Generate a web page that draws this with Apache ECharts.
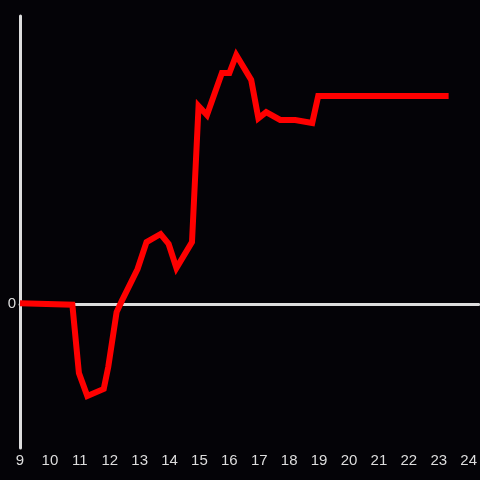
<!DOCTYPE html>
<html>
<head>
<meta charset="utf-8">
<script src="https://cdn.jsdelivr.net/npm/echarts@6/dist/echarts.min.js"></script>
<style>
  html, body { margin: 0; padding: 0; background: #040307; }
  #chart { width: 480px; height: 480px; }
</style>
</head>
<body>
<div id="chart"></div>
<script>
// hours of the day (x) and the values (y)
var hours = [9, 10.75, 10.97, 11.25, 11.8, 11.95, 12.23, 12.4, 12.93, 13.23, 13.7, 13.97, 14.23,
             14.75, 14.97, 15.25, 15.75, 16.0, 16.23, 16.73, 16.97, 17.23, 17.7, 18.2, 18.77, 18.97, 23.33];
var values = [0.005, -0.005, -0.479, -0.639, -0.59, -0.4375, -0.056, 0.02, 0.243, 0.43, 0.486, 0.417, 0.25,
              0.43, 1.375, 1.3125, 1.604, 1.604, 1.729, 1.556, 1.29, 1.333, 1.278, 1.278, 1.257, 1.444, 1.444];
var xMin = 9, xMax = 24.333;
var yMin = -1, yMax = 2;

var points = [];
for (let i = 0; i < hours.length; i++) {
    points.push([hours[i], values[i]]);
}

var labelColor = '#dddddd';
var lineColor = '#dddddd';

var myChart = echarts.init(document.getElementById('chart'));
var option = {
    backgroundColor: '#040307',
    animation: false,
    grid: { left: 20, right: 0, top: 16, bottom: 32 },
    xAxis: [
        {
            type: 'value',
            min: xMin,
            max: xMax,
            interval: 1,
            position: 'bottom',
            axisLine: { show: false, onZero: false },
            axisTick: { show: false },
            splitLine: { show: false },
            axisLabel: {
                color: labelColor,
                fontSize: 15,
                fontFamily: 'Liberation Sans',
                margin: 5,
                showMaxLabel: false
            }
        },
        {
            // zero line
            type: 'value',
            min: xMin,
            max: xMax,
            axisLine: { show: true, onZero: true, onZeroAxisIndex: 0, lineStyle: { color: lineColor, width: 3 } },
            axisTick: { show: false },
            axisLabel: { show: false },
            splitLine: { show: false }
        }
    ],
    yAxis: {
        type: 'value',
        min: yMin,
        max: yMax,
        interval: 1,
        axisLine: { show: true, lineStyle: { color: lineColor, width: 3 } },
        axisTick: { show: false },
        splitLine: { show: false },
        axisLabel: {
            color: labelColor,
            fontSize: 15,
            fontFamily: 'Liberation Sans',
            margin: 4,
            formatter: function (value) {
                return value === 0 ? '0' : '';
            }
        }
    },
    series: [
        {
            type: 'line',
            xAxisIndex: 0,
            data: points,
            symbol: 'none',
            lineStyle: { color: '#ff0000', width: 6, join: 'miter' },
            itemStyle: { color: '#ff0000' }
        }
    ]
};
myChart.setOption(option);
</script>
</body>
</html>
